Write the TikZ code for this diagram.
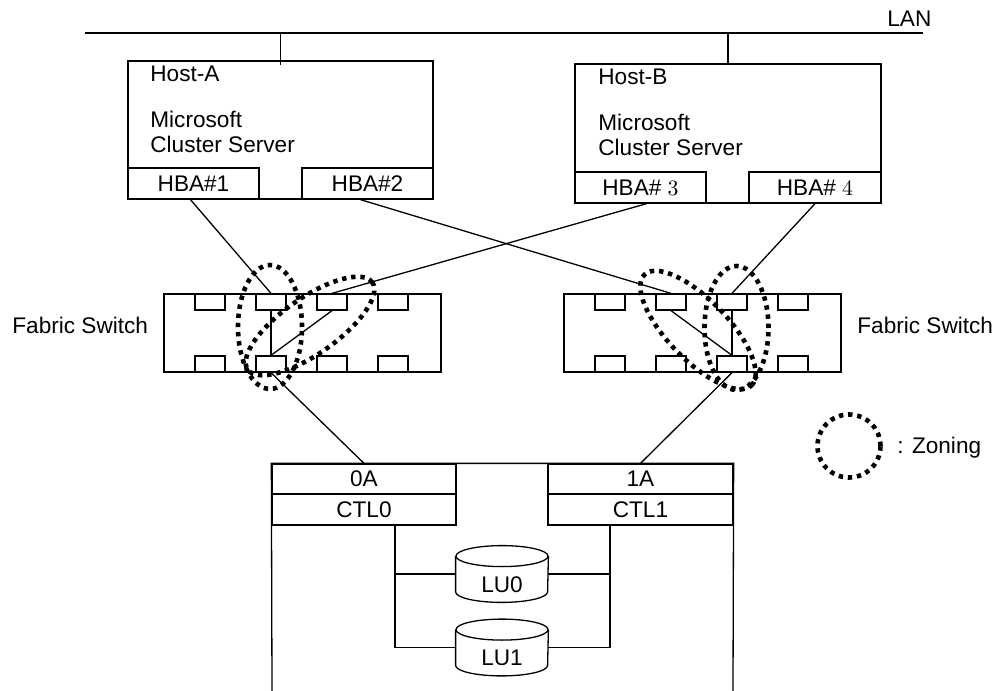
\documentclass[tikz,border=0pt]{standalone}
\usepackage{fontspec}
\setmainfont{Liberation Sans}

\begin{document}
\begin{tikzpicture}[x=0.5pt,y=-0.5pt,
  every node/.style={font=\fontsize{11.3}{12.5}\selectfont},
  box/.style={draw,line width=0.65pt,inner sep=0pt},
  port/.style={draw,line width=0.65pt,inner sep=0pt,minimum width=15pt,minimum height=8pt},
  lu/.style={inner sep=0pt,minimum width=46pt,minimum height=28pt},
  wire/.style={line width=0.65pt},
  zone/.style={line width=2.3pt,dash pattern=on 2.2pt off 2.4pt}]
\useasboundingbox (0,0) rectangle (998,691);
\coordinate (lanL) at (85,33);
\coordinate (lanR) at (923,33);
\draw[wire] (lanL) -- (lanR);
\node[anchor=base west,inner sep=0pt] (lan) at (887,26) {LAN};
\node[box,minimum width=152.5pt,minimum height=69pt] (hostA) at (280.5,130) {};
\node[box,minimum width=153pt,minimum height=69.5pt] (hostB) at (728,133.5) {};
\node[anchor=north west,align=left,inner sep=0pt] (txtA) at (150,65.8) {Host-A\\[10.5pt]Microsoft\\Cluster Server};
\node[anchor=north west,align=left,inner sep=0pt] (txtB) at (598,68.8) {Host-B\\[10.5pt]Microsoft\\Cluster Server};
\node[box,minimum width=65.5pt,minimum height=15.5pt] (hba1) at (193.5,183.5) {HBA\#1};
\node[box,minimum width=65.5pt,minimum height=15.5pt] (hba2) at (367.5,183.5) {HBA\#2};
\node[box,minimum width=65.5pt,minimum height=15.5pt] (hba3) at (640.5,187.5) {HBA\# $3$};
\node[box,minimum width=66pt,minimum height=15.5pt] (hba4) at (815,187.5) {HBA\# $4$};
\draw[wire] (hostA.north |- lanL) -- ([yshift=-2.5pt]hostA.north);
\draw[wire] (hostB.north |- lanL) -- (hostB.north);
\node[box,minimum width=138.5pt,minimum height=39pt] (swL) at (302.5,333) {};
\node[box,minimum width=138.5pt,minimum height=39pt] (swR) at (702.5,333) {};
\foreach \s/\x in {L/164,R/564} {
  \foreach \i in {1,...,4} {
    \node[port] (\s t\i) at ({\x+46+61*(\i-1)},302) {};
    \node[port] (\s b\i) at ({\x+46+61*(\i-1)},364) {};
  }
}
\node[anchor=base west,inner sep=0pt] (fsL) at (12,333) {Fabric Switch};
\node[anchor=base west,inner sep=0pt] (fsR) at (857,333) {Fabric Switch};
\draw[wire] ([xshift=-1.5pt]hba1.south) -- (Lt2.north);
\draw[wire] ([xshift=-3.5pt]hba2.south) -- (Rt2.north);
\draw[wire] ([xshift=3pt]hba3.south) -- (Lt3.north);
\draw[wire] (hba4.south) -- (Rt3.north);
\draw[wire] (Lt2.south) -- (Lb2.north);
\draw[wire] (Lt3.south) -- (Lb2.north);
\draw[wire] (Rt3.south) -- (Rb3.north);
\draw[wire] (Rt2.south) -- (Rb3.north);
\node[box,minimum width=92pt,minimum height=15pt] (p0A) at (364,479) {0A};
\node[box,minimum width=92pt,minimum height=15.5pt] (ctl0) at (364,509.5) {CTL0};
\node[box,minimum width=92.5pt,minimum height=15pt] (p1A) at (640.5,479) {1A};
\node[box,minimum width=92.5pt,minimum height=15.5pt] (ctl1) at (640.5,509.5) {CTL1};
\coordinate (arrBL) at (272,691);
\coordinate (arrBR) at (733,691);
\draw[wire] (arrBL) -- (p0A.north west) -- (p1A.north east) -- (arrBR);
\draw[wire] (Lb2.south) -- (p0A.north);
\draw[wire] (Rb3.south) -- (p1A.north);
\node[lu] (lu0) at (502,574) {};
\node[lu] (lu1) at (502,647.5) {};
\foreach \u in {lu0,lu1} {
  \draw[wire] ([yshift=-5.25pt]\u.north) ellipse [x radius=23pt,y radius=5.25pt];
  \draw[wire] ([yshift=-5.25pt]\u.north west) -- ([yshift=5.25pt]\u.south west)
    arc [start angle=180,end angle=360,x radius=23pt,y radius=5.25pt] -- ([yshift=-5.25pt]\u.north east);
}
\node (lu0txt) at ([yshift=-5.5pt]lu0.center) {LU0};
\node (lu1txt) at ([yshift=-5.25pt]lu1.center) {LU1};
\coordinate (busL) at ([xshift=15.5pt]ctl0.south);
\coordinate (busR) at ([xshift=-15.25pt]ctl1.south);
\draw[wire] (busL) |- (lu1.west);
\draw[wire] (lu0.west) -| (busL);
\draw[wire] (busR) |- (lu1.east);
\draw[wire] (lu0.east) -| (busR);
\draw[zone] (270,327) ellipse [x radius=16pt,y radius=31pt];
\draw[zone,rotate around={35:(310,326)}] (310,326) ellipse [x radius=38pt,y radius=14pt];
\draw[zone] (736.5,328) ellipse [x radius=16pt,y radius=31pt];
\draw[zone,rotate around={-46:(698,330)}] (698,330) ellipse [x radius=38.5pt,y radius=15pt];
\node[zone,draw,circle,inner sep=0pt,minimum size=31.5pt] (zoneKey) at (849,446) {};
\node[anchor=base west,inner sep=0pt] (zoneTxt) at (897,453) {: Zoning};
\end{tikzpicture}
\end{document}
